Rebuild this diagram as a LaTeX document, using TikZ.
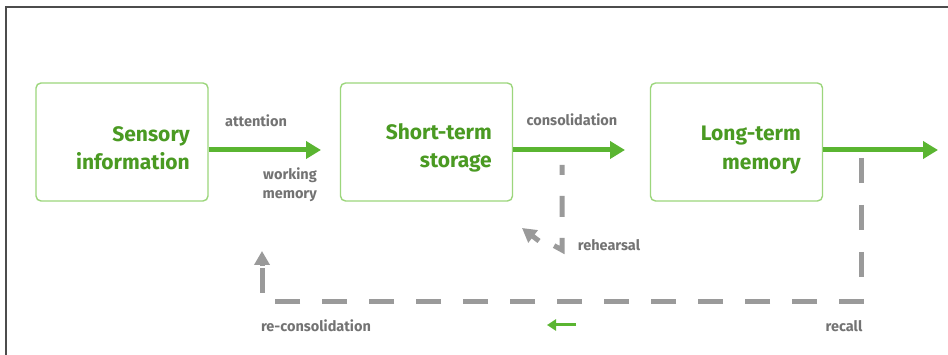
\documentclass[tikz,border=0pt]{standalone}
\usepackage{fontspec}
\setmainfont{Fira Sans}
\usetikzlibrary{arrows.meta,calc}
\definecolor{boxgreen}{HTML}{9CD67C}
\definecolor{txtgreen}{HTML}{4A9A22}
\definecolor{arrgreen}{HTML}{5AB531}
\definecolor{lblgray}{HTML}{737373}
\definecolor{dashgray}{HTML}{9A9A9A}
\tikzset{
  membox/.style={draw=boxgreen,line width=1.4pt,rounded corners=5pt,minimum width=172pt,minimum height=118pt,inner sep=0pt},
  memtext/.style={text=txtgreen,font=\fontsize{21}{28.5}\selectfont\bfseries,align=right,inner sep=0pt,anchor=east},
  lbl/.style={text=lblgray,font=\fontsize{14.5}{19}\selectfont\bfseries,inner sep=0pt},
  greenarrow/.style={draw=arrgreen,line width=5pt,-{Triangle[length=15pt,width=17pt]}},
  graydash/.style={draw=dashgray,line width=5pt,dash pattern=on 25pt off 22pt},
  grayarrowtip/.style={-{Triangle[length=14pt,width=15pt]}},
}
\begin{document}
\begin{tikzpicture}[x=1pt,y=-1pt]
\useasboundingbox (0,0) rectangle (948,355);
\fill[white] (0,0) rectangle (948,355);
\draw[color=black!70,line width=1.3pt] (948,7) -- (6,7) -- (6,355);
% boxes
\node[membox] (b1) at (122,142) {};
\node[membox] (b2) at (426.5,142) {};
\node[membox] (b3) at (736.5,142) {};
\node[memtext] (t1) at (190,148) {Sensory\\information};
\node[memtext] (t2) at (492,148) {Short-term\\storage};
\node[memtext] (t3) at (801,150) {Long-term\\memory};
% coordinates
\coordinate (a1e) at (321,150);
\coordinate (a2e) at (625,150);
\coordinate (a3e) at (938,150);
\draw[greenarrow] (b1.east |- a1e) -- (a1e);
\draw[greenarrow] (b2.east |- a2e) -- (a2e);
\draw[greenarrow] (b3.east |- a3e) -- (a3e);
% labels
\node[lbl] (lattn) at (256,121) {attention};
\node[lbl,align=right,anchor=east] (lwork) at (317,185) {working\\memory};
\node[lbl] (lcons) at (572,120) {consolidation};
\node[lbl] (lreh) at (609,245) {rehearsal};
\node[lbl] (lrecon) at (316,326) {re-consolidation};
\node[lbl] (lrec) at (844,326) {recall};
% rehearsal loop
\coordinate (r0) at (562,165);
\coordinate (r1) at (562,250);
\coordinate (r2) at (522,228);
\coordinate (r3) at (539,241);
\draw[graydash,dash pattern=on 21pt off 21pt,dash phase=11pt] (r0) -- (r1) -- ($(r1)!0.5!(r2)$);
\draw[draw=dashgray,line width=5pt,grayarrowtip] (r3) -- (r2);
% recall loop
\coordinate (c0) at (861,158);
\coordinate (c1) at (861,302);
\coordinate (c2) at (262,302);
\coordinate (c3) at (262,251);
\draw[graydash,dash phase=0pt] (c0) -- (c1) -- (c2) -- (c3);
\draw[draw=dashgray,line width=5pt,grayarrowtip] (262,266) -- (c3);
% small green arrow
\coordinate (g0) at (576,325);
\coordinate (g1) at (547,325);
\draw[draw=arrgreen,line width=3pt,-{Triangle[length=9pt,width=11pt]}] (g0) -- (g1);
\end{tikzpicture}
\end{document}
